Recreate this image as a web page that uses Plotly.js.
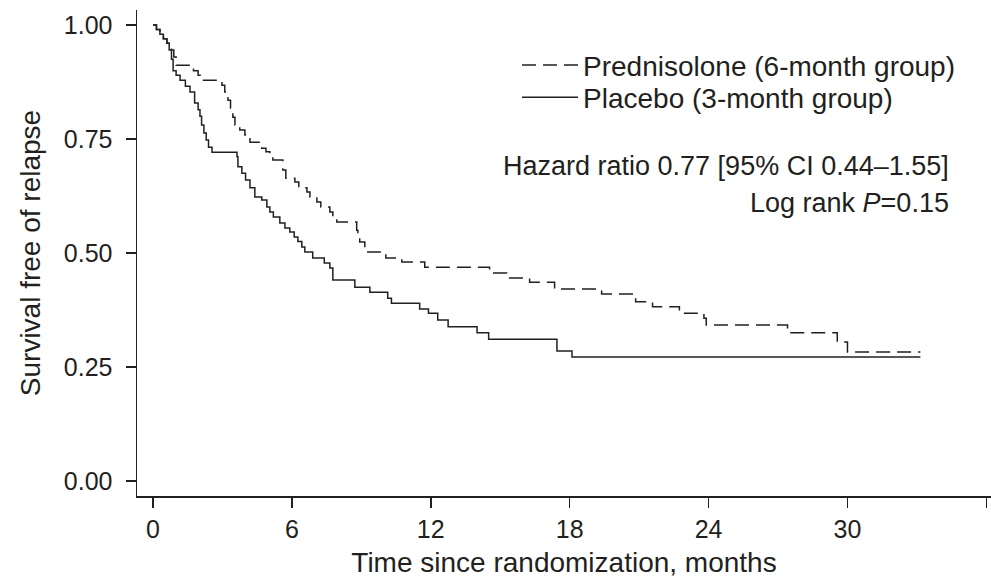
<!DOCTYPE html>
<html>
<head>
<meta charset="utf-8">
<script src="https://cdn.plot.ly/plotly-3.0.1.min.js"></script>
<style>
  html, body { margin: 0; padding: 0; background: #fff; }
  #chart { width: 991px; height: 584px; }
</style>
</head>
<body>
<div id="chart"></div>
<script>
// Prednisolone (6-month group) – Kaplan–Meier steps (months, survival)
const predTime = [0, 0.15, 0.3, 0.45, 0.6, 0.8, 0.9, 1.0, 1.75, 1.95, 2.15, 2.98, 3.1, 3.24, 3.35, 3.45, 3.54, 3.75, 3.97, 4.19, 4.70, 4.88, 5.05, 5.18, 5.61, 5.74, 6.13, 6.30, 6.65, 6.78, 7.08, 7.25, 7.64, 7.77, 7.94, 8.80, 8.85, 8.93, 9.15, 9.28, 10.06, 10.75, 11.74, 14.54, 15.28, 16.27, 17.35, 19.38, 20.85, 21.58, 22.74, 23.8, 23.9, 27.41, 29.56, 30.0, 33.15];
const predSurv = [1.0, 0.99, 0.98, 0.97, 0.96, 0.945, 0.93, 0.912, 0.90, 0.89, 0.879, 0.868, 0.853, 0.835, 0.818, 0.798, 0.781, 0.770, 0.759, 0.743, 0.730, 0.722, 0.715, 0.704, 0.682, 0.664, 0.656, 0.643, 0.634, 0.623, 0.612, 0.601, 0.590, 0.579, 0.568, 0.550, 0.539, 0.524, 0.511, 0.502, 0.489, 0.480, 0.469, 0.456, 0.445, 0.436, 0.421, 0.410, 0.393, 0.382, 0.368, 0.357, 0.342, 0.325, 0.305, 0.283, 0.283];

// Placebo (3-month group)
const placTime = [0, 0.15, 0.3, 0.45, 0.6, 0.7, 0.8, 0.87, 1.0, 1.17, 1.4, 1.6, 1.8, 1.95, 2.03, 2.1, 2.2, 2.3, 2.4, 2.55, 3.63, 3.67, 3.84, 4.0, 4.19, 4.4, 4.7, 4.92, 5.05, 5.2, 5.48, 5.7, 5.91, 6.1, 6.26, 6.43, 6.56, 6.9, 7.4, 7.64, 7.77, 8.72, 9.37, 10.14, 10.3, 11.52, 11.9, 12.3, 12.75, 14.0, 14.5, 17.45, 18.1, 33.15];
const placSurv = [1.0, 0.99, 0.98, 0.97, 0.96, 0.945, 0.925, 0.90, 0.89, 0.879, 0.866, 0.853, 0.829, 0.814, 0.80, 0.781, 0.763, 0.748, 0.732, 0.721, 0.711, 0.689, 0.675, 0.660, 0.643, 0.623, 0.616, 0.601, 0.590, 0.579, 0.566, 0.555, 0.546, 0.535, 0.525, 0.513, 0.502, 0.489, 0.478, 0.467, 0.441, 0.425, 0.414, 0.401, 0.390, 0.377, 0.368, 0.353, 0.338, 0.325, 0.311, 0.285, 0.272, 0.272];

const xTicks = [0, 6, 12, 18, 24, 30, 36];
const xTickText = ['0', '6', '12', '18', '24', '30', ''];
const yTicks = [0, 0.25, 0.5, 0.75, 1.0];
const yTickText = ['0.00', '0.25', '0.50', '0.75', '1.00'];

const seriesNames = ['Prednisolone (6-month group)', 'Placebo (3-month group)'];
const annoHR = 'Hazard ratio 0.77 [95% CI 0.44\u20131.55]';
const annoLR = 'Log rank <i>P</i>=0.15';

const ink = '#231f20';
const font = 'Liberation Sans, Arial, sans-serif';

const traces = [
  { x: predTime, y: predSurv, name: seriesNames[0], mode: 'lines', legend: 'legend',
    line: { shape: 'hv', color: ink, width: 1.5, dash: '14px,7px' } },
  { x: placTime, y: placSurv, name: seriesNames[1], mode: 'lines', legend: 'legend2',
    line: { shape: 'hv', color: ink, width: 1.5 } }
];

const legendBase = {
  xanchor: 'left', yanchor: 'middle', bgcolor: 'rgba(0,0,0,0)',
  font: { size: 28, family: font, color: ink }, itemwidth: 56
};

const layout = {
  width: 991, height: 584,
  margin: { l: 137, r: 0, t: 10, b: 88 },
  paper_bgcolor: '#fff', plot_bgcolor: '#fff',
  font: { family: font, color: ink, size: 25 },
  showlegend: true,
  legend: Object.assign({}, legendBase, { x: 0.445, y: 0.886 }),
  legend2: Object.assign({}, legendBase, { x: 0.445, y: 0.820 }),
  xaxis: {
    range: [-0.69, 36.2], tickvals: xTicks, ticktext: xTickText,
    ticks: 'outside', ticklen: 10, tickwidth: 1.5, tickcolor: ink,
    showline: true, linewidth: 1.5, linecolor: ink, mirror: false,
    showgrid: false, zeroline: false,
    tickfont: { size: 25, family: font, color: ink },
    title: { text: 'Time since randomization, months', font: { size: 28, family: font, color: ink }, standoff: 11 }
  },
  yaxis: {
    range: [-0.033, 1.033], tickvals: yTicks, ticktext: yTickText,
    ticks: 'outside', ticklen: 10, tickwidth: 1.5, tickcolor: ink,
    ticklabelstandoff: 8,
    showline: true, linewidth: 1.5, linecolor: ink,
    showgrid: false, zeroline: false,
    tickfont: { size: 25, family: font, color: ink },
    title: { text: 'Survival free of relapse', font: { size: 28, family: font, color: ink }, standoff: 15 }
  },
  annotations: [
    { text: annoHR, xref: 'paper', yref: 'paper', x: 0.953, y: 0.679, xanchor: 'right', yanchor: 'middle',
      showarrow: false, font: { size: 27, family: font, color: ink } },
    { text: annoLR, xref: 'paper', yref: 'paper', x: 0.953, y: 0.603, xanchor: 'right', yanchor: 'middle',
      showarrow: false, font: { size: 27, family: font, color: ink } }
  ]
};

Plotly.newPlot('chart', traces, layout, { staticPlot: true, displayModeBar: false });
</script>
</body>
</html>
